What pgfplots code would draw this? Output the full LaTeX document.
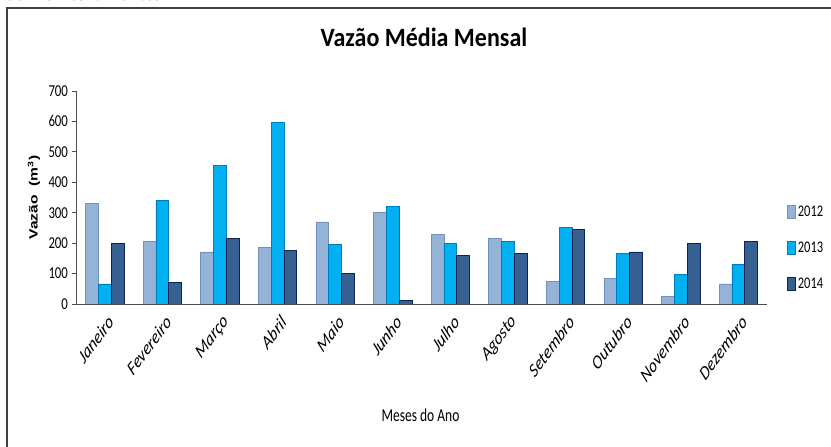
\documentclass[border=0pt]{standalone}
\usepackage{pgfplots}
\pgfplotsset{compat=1.18}
\usepackage{fontspec}
\usepackage{graphicx}
\setmainfont{Carlito}
\newfontfamily\arialfont{Liberation Sans}
\newfontfamily\timesfont{Liberation Serif}
\definecolor{c12}{RGB}{149,179,215}
\definecolor{c12d}{RGB}{115,145,185}
\definecolor{c13}{RGB}{0,176,240}
\definecolor{c13d}{RGB}{0,125,190}
\definecolor{c14}{RGB}{55,96,146}
\definecolor{c14d}{RGB}{15,35,80}
\begin{document}
\begin{tikzpicture}
\useasboundingbox (0pt,0pt) rectangle (831pt,447pt);
\node[anchor=base west, inner sep=0pt, font=\timesfont\bfseries\fontsize{19}{19}\selectfont] at (5pt,446pt) {de monitoramento.};
\draw[black!75, line width=1.3pt] (7pt,0pt) -- (7pt,439pt) -- (831pt,439pt);
\begin{axis}[
  at={(76pt,143pt)}, anchor=south west,
  scale only axis, width=691pt, height=213pt,
  xmin=-0.5, xmax=11.5, ymin=0, ymax=700,
  ybar=0pt, bar width=12.8pt,
  axis x line*=bottom, axis y line*=left,
  axis line style={black!70, line width=0.8pt, -},
  xtick={0,...,11},
  xticklabels={Janeiro,Fevereiro,Março,Abril,Maio,Junho,Julho,Agosto,Setembro,Outubro,Novembro,Dezembro},
  x tick style={draw=none},
  xticklabel style={font=\itshape\fontsize{15}{15}\selectfont, yscale=1.3, rotate=46, anchor=east, yshift=-10pt, xshift=2pt},
  ytick={0,100,...,700},
  tick align=outside, major tick length=4.5pt,
  y tick style={black!70, line width=0.8pt},
  yticklabel={\scalebox{1}[1.3]{\pgfmathprintnumber[assume math mode=true]{\tick}}},
  yticklabel style={font=\fontsize{12.8}{13}\selectfont},
  title={\scalebox{1}[1.1]{\bfseries\fontsize{24}{24}\selectfont Vazão Média Mensal}},
  title style={at={(0.5036,1.2235)}, anchor=center},
  xlabel={\scalebox{1}[1.35]{\fontsize{13.5}{14}\selectfont Meses do Ano}},
  xlabel style={at={(0.4985,-0.5235)}, anchor=center},
  ylabel={\scalebox{1.3}[1]{\arialfont\bfseries\fontsize{12}{12}\selectfont Vazão~~(m\textsuperscript{3})}},
  ylabel style={at={(-0.0608,0.5)}, anchor=center},
  legend style={at={(1.029,0.47)}, anchor=north west, draw=none, fill=none, inner sep=0pt,
    font=\fontsize{12.5}{13}\selectfont, row sep=20pt, cells={anchor=west}},
  legend image code/.code={\fill[#1] (0pt,-6.5pt) rectangle (8pt,6.5pt);},
]
\addplot[fill=c12, draw=c12d, line width=0.6pt] coordinates {
(0,330) (1,205) (2,171) (3,185) (4,270) (5,300) (6,230) (7,215) (8,75) (9,85) (10,25) (11,66)};
\addplot[fill=c13, draw=c13d, line width=0.6pt] coordinates {
(0,66) (1,340) (2,456) (3,597) (4,195) (5,320) (6,200) (7,205) (8,251) (9,165) (10,96) (11,131)};
\addplot[fill=c14, draw=c14d, line width=0.6pt] coordinates {
(0,200) (1,71) (2,215) (3,175) (4,101) (5,11) (6,160) (7,165) (8,245) (9,171) (10,200) (11,206)};
\legend{{\scalebox{1}[1.3]{2012}},{\scalebox{1}[1.3]{2013}},{\scalebox{1}[1.3]{2014}}}
\end{axis}
\end{tikzpicture}
\end{document}
